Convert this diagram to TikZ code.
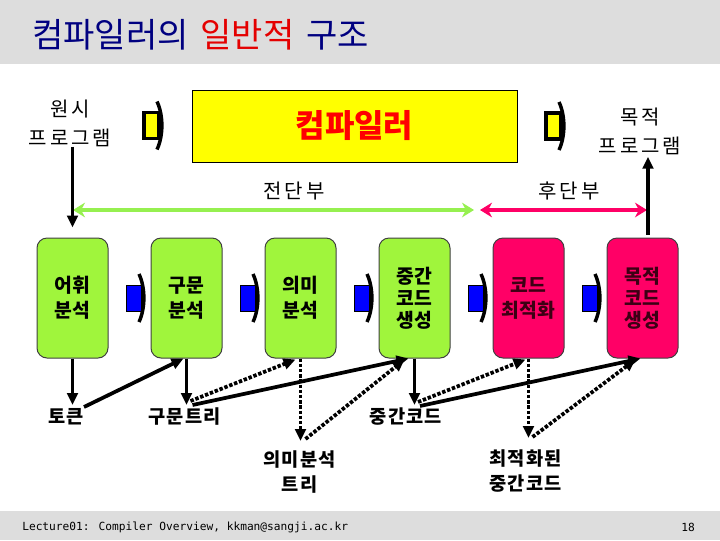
\documentclass[tikz,border=0pt]{standalone}
\usepackage{fontspec}
\setmainfont{Noto Sans CJK KR}
\newfontfamily\kr{Noto Sans CJK KR}
\newfontfamily\krsp{Noto Sans CJK KR}[LetterSpace=15]
\newfontfamily\krbsp{Noto Sans CJK KR}[LetterSpace=6]
\newfontfamily\footfont{DejaVu Sans Mono}
\usetikzlibrary{arrows.meta,calc}
\definecolor{bandgray}{RGB}{221,221,221}
\definecolor{navy}{RGB}{0,0,128}
\definecolor{tred}{RGB}{228,0,0}
\definecolor{lime}{RGB}{160,245,60}
\definecolor{limearrow}{RGB}{150,240,80}
\definecolor{hotpink}{RGB}{255,0,102}
\definecolor{pinktext}{RGB}{60,0,20}
\definecolor{ylw}{RGB}{255,255,0}
\definecolor{blu}{RGB}{0,0,255}
\newcommand{\flowmark}[4]{%
  \filldraw[fill=#3, draw=black, line width=#4] (#1,#2-13) rectangle (#1+15,#2+13);
  \draw[line width=2.6pt] (#1+13,#2-24) .. controls (#1+19.5,#2-10) and (#1+19.5,#2+10) .. (#1+13,#2+24);
}
\begin{document}
\begin{tikzpicture}[x=0.75pt,y=-0.75pt,
  ybox/.style={draw=black, line width=0.75pt, fill=ylw, minimum width=243.75pt, minimum height=54pt,
    text=red, font=\kr\bfseries\fontsize{24}{28}\selectfont, inner sep=0},
  stagebox/.style={draw=black!75, line width=0.75pt, rounded corners=7.5pt, minimum width=53.25pt,
    minimum height=90pt, inner sep=0, align=center, font=\kr\bfseries\fontsize{14.5}{18.75}\selectfont},
  gbox/.style={stagebox, fill=lime, text=black},
  pbox/.style={stagebox, fill=hotpink, text=pinktext},
  thinlbl/.style={inner sep=0, align=center, font=\krsp\fontsize{15}{21.75}\selectfont},
  blbl/.style={inner sep=0, align=center, font=\krbsp\bfseries\fontsize{14}{18.75}\selectfont},
  solidarr/.style={line width=2.8pt, -{Triangle[length=9pt,width=8pt]}},
  dotarr/.style={line width=2.8pt, dash pattern=on 2.6pt off 1.3pt, -{Triangle[length=9pt,width=8pt]}},
  spanarr/.style={line width=3.5pt, {Stealth[length=9pt,width=11pt]}-{Stealth[length=9pt,width=11pt]}}
]
\useasboundingbox (0,0) rectangle (720,540);
\fill[bandgray] (0,0) rectangle (720,64);
\fill[bandgray] (0,511) rectangle (720,540);

% title
\node[anchor=west, inner sep=0, text=navy, font=\kr\fontsize{25.5}{30}\selectfont] (title) at (32,35)
  {컴파일러의\hspace{0.35em}\textcolor{tred}{일반적}\hspace{0.35em}구조};

% compiler box and program labels
\node[ybox] (comp) at (354.5,126) {컴파일러};
\node[thinlbl] (src) at (70,123) {원시\\프로그램};
\node[thinlbl] (tgt) at (640,131) {목적\\프로그램};
\flowmark{144}{125.5}{ylw}{2.6pt}
\flowmark{546}{126}{ylw}{2.6pt}

% front / back end spans
\node[thinlbl] (front) at (294,191) {전단부};
\node[thinlbl] (back) at (569,191) {후단부};
\coordinate (fa) at (73,210);
\coordinate (fb) at (474,210);
\coordinate (ba) at (480,210);
\coordinate (bb) at (647,210);
\draw[spanarr, limearrow] (fa) -- (fb);
\draw[spanarr, hotpink] (ba) -- (bb);

% stage boxes
\node[gbox] (b1) at (72.5,298) {어휘\\분석};
\node[gbox] (b2) at (186.5,298) {구문\\분석};
\node[gbox] (b3) at (300.5,298) {의미\\분석};
\node[gbox, font=\kr\bfseries\fontsize{14.5}{16.5}\selectfont] (b4) at (414.5,298) {중간\\코드\\생성};
\node[pbox] (b5) at (528.5,298) {코드\\최적화};
\node[pbox, font=\kr\bfseries\fontsize{14.5}{16.5}\selectfont] (b6) at (642.5,298) {목적\\코드\\생성};
\foreach \k in {0,...,4} {\flowmark{126+114*\k}{298}{blu}{0.75pt}}

% input / output arrows
\draw[solidarr] (b1.north |- src.south) -- ($(b1.north)+(0,-10)$);
\draw[solidarr] ($(b6.north)+(5.5,-3)$) -- ($(b6.north |- tgt.south)+(5.5,2)$);

% intermediate products
\node[blbl] (tok) at (66,417) {토큰};
\node[blbl] (ptree) at (184.5,417) {구문트리};
\node[blbl] (stree) at (299.5,472) {의미분석\\트리};
\node[blbl] (icode) at (406,417) {중간코드};
\node[blbl] (ocode) at (525.5,471) {최적화된\\중간코드};

\draw[solidarr] (b1.south) -- ($(b1.south |- tok)+(0,-12)$);
\draw[solidarr] ($(tok)+(18,-10)$) -- ($(b2.south)+(-3,0)$);
\draw[solidarr] (b2.south) -- ($(b2.south |- ptree)+(0,-12)$);
\draw[dotarr] ($(ptree)+(6,-16)$) -- ($(b3.south)+(-5,1)$);
\draw[solidarr] ($(ptree)+(8,-12)$) -- ($(b4.south)+(-6,0)$);
\draw[dotarr] (b3.south) -- ($(b3.south |- stree)+(0,-31)$);
\draw[dotarr] ($(stree)+(6,-33)$) -- ($(b4.south)+(-10,1)$);
\draw[solidarr] (b4.south) -- ($(b4.south |- icode)+(0,-12)$);
\draw[dotarr] ($(icode)+(12,-15)$) -- ($(b5.south)+(-3,1)$);
\draw[solidarr] ($(icode)+(14,-11)$) -- ($(b6.south)+(-2,0)$);
\draw[dotarr] (b5.south) -- ($(b5.south |- ocode)+(0,-33)$);
\draw[dotarr] ($(ocode)+(7,-34)$) -- ($(b6.south)+(-7,1)$);

% footer
\node[anchor=west, inner sep=0, font=\footfont\fontsize{8.4}{10}\selectfont] (foot) at (22,527)
  {Lecture01: Compiler Overview, kkman@sangji.ac.kr};
\node[anchor=east, inner sep=0, font=\footfont\fontsize{8.4}{10}\selectfont] (pg) at (695,527) {18};
\end{tikzpicture}
\end{document}
